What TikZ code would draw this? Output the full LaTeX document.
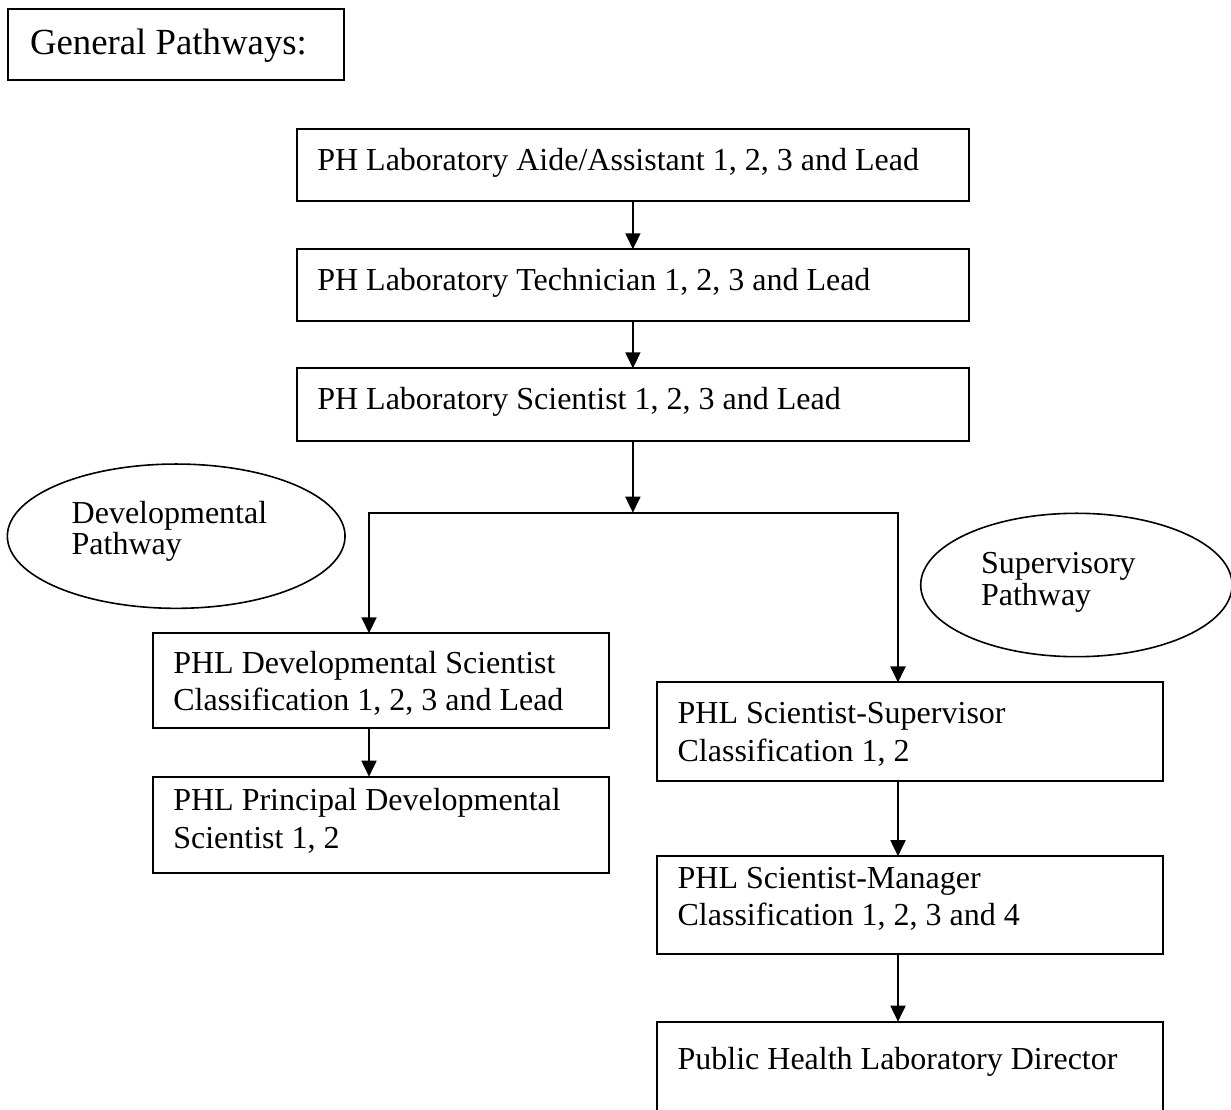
\documentclass[tikz,border=0pt]{standalone}
\usepackage{fontspec}
\setmainfont{Liberation Serif}
\usetikzlibrary{arrows.meta,shapes.geometric}
\begin{document}
\begin{tikzpicture}[x=0.375pt,y=-0.375pt,
  box/.style={draw, line width=0.75pt, rectangle, inner sep=0pt, outer sep=0pt, anchor=north west},
  sz/.style 2 args={minimum width=#1*0.375pt, minimum height=#2*0.375pt},
  oval/.style={draw, ellipse, line width=0.6pt, inner sep=0pt, outer sep=0pt},
  txt/.style={anchor=base west, inner sep=0pt, outer sep=0pt, font=\fontsize{12}{14}\selectfont},
  ovtxt/.style={anchor=base west, inner sep=0pt, outer sep=0pt, font=\fontsize{12}{10.65}\selectfont},
  arr/.style={line width=0.75pt, -{Triangle[width=5.6pt,length=6pt]}},
  conn/.style={line width=0.75pt}]
\useasboundingbox (0,0) rectangle (1231,1110);
\clip (0,0) rectangle (1231,1110);
\fill[white] (0,0) rectangle (1231,1110);

% title
\node[box, sz={336}{70.7}] (title) at (8.3,9.3) {};
\node[txt, font=\fontsize{13.8}{16}\selectfont] (titletext) at (30,55) {General Pathways:};

% main trunk
\node[box, sz={672.8}{71.7}] (b1) at (296.5,129) {};
\node[txt] (t1) at (317.3,171) {PH Laboratory Aide/Assistant 1, 2, 3 and Lead};
\node[box, sz={672.8}{71.4}] (b2) at (296.5,249.3) {};
\node[txt] (t2) at (317.3,291) {PH Laboratory Technician 1, 2, 3 and Lead};
\node[box, sz={672.8}{72.7}] (b3) at (296.5,368.3) {};
\node[txt] (t3) at (317.3,410) {PH Laboratory Scientist 1, 2, 3 and Lead};

% developmental column
\node[box, sz={456.6}{95}] (dev) at (152.7,633.3) {};
\node[txt] (tdev) at (173.3,673.3) {\parbox[t]{440\dimexpr0.375pt\relax}{PHL Developmental Scientist\\Classification 1, 2, 3 and Lead}};
\node[box, sz={456.6}{96.6}] (pdev) at (152.7,776.7) {};
\node[txt] (tpdev) at (173.3,811) {\parbox[t]{440\dimexpr0.375pt\relax}{PHL Principal Developmental\\Scientist 1, 2}};

% supervisory column
\node[box, sz={506}{98.6}] (sup) at (657,682.5) {};
\node[txt] (tsup) at (677.6,724) {\parbox[t]{480\dimexpr0.375pt\relax}{PHL Scientist-Supervisor\\Classification 1, 2}};
\node[box, sz={506}{98}] (man) at (657,856.2) {};
\node[txt] (tman) at (677.6,888.4) {\parbox[t]{480\dimexpr0.375pt\relax}{PHL Scientist-Manager\\Classification 1, 2, 3 and 4}};
\node[box, sz={506}{150}] (dir) at (657,1021.7) {};
\node[txt] (tdir) at (677.6,1069.8) {Public Health Laboratory Director};

% pathway ellipses
\node[oval, minimum width=337.7*0.375pt, minimum height=144.3*0.375pt] (dpath) at (176.2,536.2) {};
\node[ovtxt] (tdpath) at (71.7,523.3) {\parbox[t]{250\dimexpr0.375pt\relax}{Developmental\\Pathway}};
\node[oval, minimum width=311.4*0.375pt, minimum height=143.4*0.375pt] (spath) at (1076.4,585) {};
\node[ovtxt] (tspath) at (981,573.3) {\parbox[t]{240\dimexpr0.375pt\relax}{Supervisory\\Pathway}};

% connectors
\coordinate (j) at (632.9,512.7);
\coordinate (jl) at (369,512.7);
\coordinate (jr) at (898,512.7);
\draw[arr] (b1.south) -- (b2.north);
\draw[arr] (b2.south) -- (b3.north);
\draw[arr] (b3.south) -- (j);
\draw[arr] (j) -- (jl) -- (jl |- dev.north);
\draw[arr] (j) -- (jr) -- (jr |- sup.north);
\draw[arr] (dev.south -| jl) -- (pdev.north -| jl);
\draw[arr] (sup.south -| jr) -- (man.north -| jr);
\draw[arr] (man.south -| jr) -- (dir.north -| jr);
\end{tikzpicture}
\end{document}
